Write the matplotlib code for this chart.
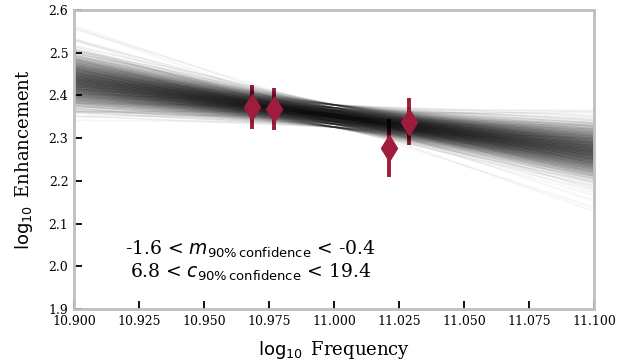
import numpy as np
import matplotlib.pyplot as plt

plt.rcParams['font.family'] = 'DejaVu Serif'
plt.rcParams['mathtext.fontset'] = 'dejavusans'

# measured points
freq = [10.9685, 10.977, 11.021, 11.029]
enh = [2.373, 2.368, 2.276, 2.339]
enh_err = [0.051, 0.050, 0.068, 0.055]

# posterior line samples: slope and offset at the pivot
x_pivot = 11.0
y_pivot = 2.352
# core of the fan: every slope with every offset
core_slopes = [-1.38, -1.28, -1.21, -1.15, -1.10, -1.05, -1.01, -0.97,
               -0.93, -0.90, -0.87, -0.84, -0.80, -0.77, -0.74, -0.71,
               -0.67, -0.63, -0.59, -0.55, -0.50, -0.43, -0.36, -0.26]
core_offsets = [-0.026, -0.019, -0.014, -0.01, -0.006, -0.003, 0.0,
                0.003, 0.006, 0.01, 0.014, 0.019, 0.026]
# faint wings: one line per (slope, offset) pair
wing_slopes = [-1.42, -1.46, -1.5, -1.54, -1.58, -1.63, -1.68, -1.74, -1.8,
               -1.88, -1.96, -2.05, -2.15,
               -0.22, -0.18, -0.14, -0.1, -0.06, -0.02, 0.02, 0.06]
wing_offsets = [0.01, -0.015, 0.004, -0.02, 0.018, -0.006, 0.012, -0.012,
                0.0, 0.016, -0.018, 0.006, -0.008,
                -0.01, 0.015, -0.004, 0.02, -0.016, 0.008, 0.012, 0.004]

xlim = (10.9, 11.1)
ylim = (1.9, 2.6)

fig = plt.figure(figsize=(6.34, 3.64), dpi=100)
ax = fig.add_axes([0.1167, 0.151, 0.8203, 0.8215])

# error bars first (lines overlay them), markers on top
ax.errorbar(freq, enh, yerr=enh_err, fmt='none', ecolor='#a01c3c',
            elinewidth=2.8, capsize=0, zorder=1)

xs = np.array(xlim)
for m in core_slopes:
    for d in core_offsets:
        ax.plot(xs, y_pivot + d + m * (xs - x_pivot), color='black',
                alpha=0.07, lw=1.2, zorder=2)
for m, d in zip(wing_slopes, wing_offsets):
    ax.plot(xs, y_pivot + d + m * (xs - x_pivot), color='black',
            alpha=0.04, lw=1.2, zorder=2)

ax.plot(freq, enh, linestyle='none', marker='d', markersize=13,
        color='#a01c3c', zorder=3)

ax.text(10.968, 2.012, '-1.6 < $m_{90\\%\\,\\mathrm{confidence}}$ < -0.4\n'
        '6.8 < $c_{90\\%\\,\\mathrm{confidence}}$ < 19.4',
        ha='center', va='center', fontsize=13.5, linespacing=1.1)

ax.set_xlim(*xlim)
ax.set_ylim(*ylim)
ax.set_xticks(np.arange(10.9, 11.1001, 0.025))
ax.set_yticks(np.arange(1.9, 2.6001, 0.1))
ax.xaxis.set_major_formatter(plt.FormatStrFormatter('%.3f'))
ax.yaxis.set_major_formatter(plt.FormatStrFormatter('%.1f'))
ax.tick_params(direction='in', length=6, width=1.3, labelsize=9, pad=4)
for s in ax.spines.values():
    s.set_color('#bfbfbf')
    s.set_linewidth(2)

ax.set_xlabel('$\\log_{10}$ Frequency', fontsize=13, labelpad=8)
ax.set_ylabel('$\\log_{10}$ Enhancement', fontsize=13, labelpad=10)

fig.savefig('out.png', dpi=100)
